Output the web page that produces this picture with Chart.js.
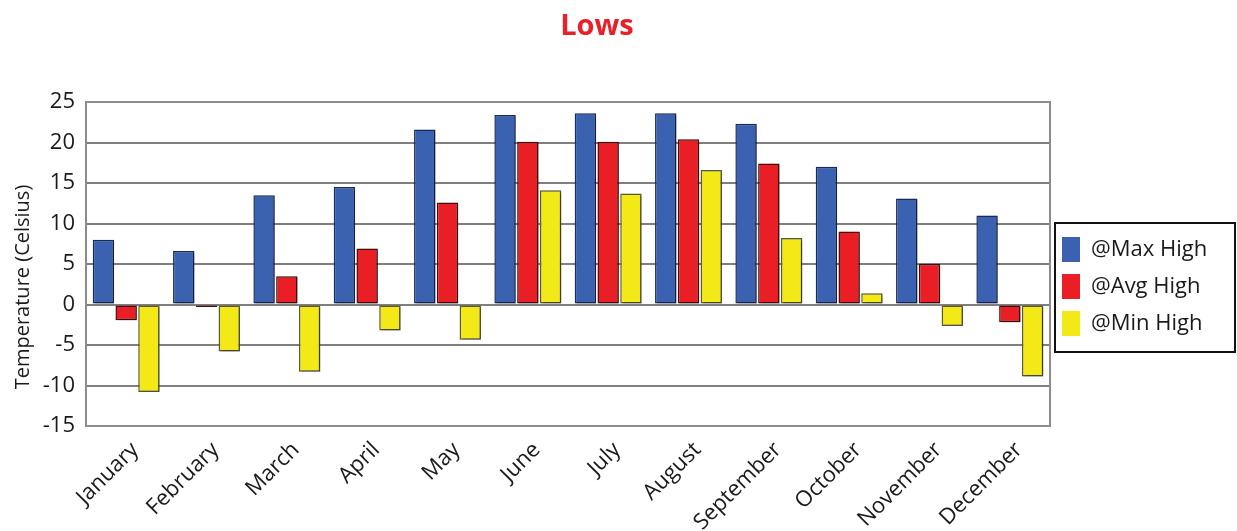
<!DOCTYPE html>
<html>
<head>
<meta charset="utf-8">
<script src="https://cdn.jsdelivr.net/npm/chart.js@4/dist/chart.umd.min.js"></script>
<style>
  html, body { margin: 0; padding: 0; background: #ffffff; }
  canvas { display: block; }
</style>
</head>
<body>
<canvas id="chart" width="1237" height="531"></canvas>
<script>
// Monthly temperatures (°C)
const months = ['January', 'February', 'March', 'April', 'May', 'June',
                'July', 'August', 'September', 'October', 'November', 'December'];
const maxHigh = [8.0, 6.6, 13.5, 14.5, 21.6, 23.4, 23.6, 23.6, 22.3, 17.0, 13.1, 11.0];
const avgHigh = [-1.95, -0.3, 3.5, 6.9, 12.6, 20.1, 20.1, 20.4, 17.4, 9.0, 5.0, -2.2];
const minHigh = [-10.8, -5.8, -8.3, -3.2, -4.35, 14.1, 13.7, 16.6, 8.2, 1.4, -2.65, -8.9];
const seriesNames = ['@Max High', '@Avg High', '@Min High'];
const yMin = -15, yMax = 25, yStep = 5;
const chartTitle = 'Lows';
const yAxisTitle = 'Temperature (Celsius)';

const FONT = '"Open Sans", "Noto Sans", sans-serif';
const legendFontSize = 22;
const legendBoxW = 18;
const legendPad = 12;

// Size the right padding so the legend starts just past the plot frame
const measure = document.createElement('canvas').getContext('2d');
measure.font = legendFontSize + 'px ' + FONT;
const textW = Math.max(...seriesNames.map(n => measure.measureText(n).width));
const legendW = legendPad + legendBoxW + legendFontSize / 2 + textW + 10;
const rightPad = Math.max(0, 1237 - 1050 - legendW);

// Plot frame, plus a soft drop shadow under the bars
const frameAndShadow = {
  id: 'frameAndShadow',
  beforeDatasetsDraw(chart) {
    const { ctx, chartArea: a } = chart;
    ctx.save();
    ctx.strokeStyle = '#8c8c8c';
    ctx.lineWidth = 2;
    ctx.strokeRect(a.left, a.top, a.right - a.left, a.bottom - a.top);
    ctx.shadowColor = 'rgba(0,0,0,0.35)';
    ctx.shadowOffsetX = 2;
    ctx.shadowOffsetY = 1;
    ctx.shadowBlur = 2;
  },
  afterDatasetsDraw(chart) {
    chart.ctx.restore();
  }
};

// Chart title, rotated axis title and the legend frame
const texts = {
  id: 'texts',
  afterDraw(chart) {
    const { ctx } = chart;
    ctx.save();
    ctx.fillStyle = '#e8202a';
    ctx.font = 'bold 29px ' + FONT;
    ctx.textAlign = 'center';
    ctx.textBaseline = 'middle';
    ctx.fillText(chartTitle, 597, 27);

    ctx.fillStyle = '#1a1a1a';
    ctx.font = '20px ' + FONT;
    ctx.translate(23, 287);
    ctx.rotate(-Math.PI / 2);
    ctx.fillText(yAxisTitle, 0, 0);
    ctx.restore();

    const lg = chart.legend;
    if (lg && lg.legendHitBoxes && lg.legendHitBoxes.length) {
      const hb = lg.legendHitBoxes;
      const first = hb[0], last = hb[hb.length - 1];
      ctx.save();
      ctx.strokeStyle = '#111111';
      ctx.lineWidth = 2;
      const left = lg.left + 5;
      const top = first.top - 14;
      const bottom = last.top + last.height + 16;
      ctx.strokeRect(left, top, chart.width - 2 - left, bottom - top);
      ctx.restore();
    }
  }
};

const barStyle = {
  borderWidth: 1.5,
  borderSkipped: false,
  barPercentage: 0.94,
  categoryPercentage: 0.85
};

new Chart(document.getElementById('chart'), {
  type: 'bar',
  data: {
    labels: months,
    datasets: [
      { label: seriesNames[0], data: maxHigh, backgroundColor: '#3a62b0', borderColor: '#1b2b5e', ...barStyle },
      { label: seriesNames[1], data: avgHigh, backgroundColor: '#ea1f26', borderColor: '#4a0d0d', ...barStyle },
      { label: seriesNames[2], data: minHigh, backgroundColor: '#f2e916', borderColor: '#5e5a30', ...barStyle }
    ]
  },
  options: {
    responsive: false,
    animation: false,
    devicePixelRatio: 1,
    layout: { padding: { top: 102, bottom: 0, left: 0, right: rightPad } },
    plugins: {
      title: { display: false },
      tooltip: { enabled: false },
      legend: {
        position: 'right',
        fullSize: false,
        // empty title row only reserves space above the items
        title: { display: true, text: '', font: { size: 10 }, padding: { top: 0, bottom: 33 } },
        labels: {
          font: { family: FONT, size: legendFontSize },
          color: '#1a1a1a',
          boxWidth: legendBoxW,
          boxHeight: 25,
          padding: legendPad,
          generateLabels(chart) {
            return Chart.defaults.plugins.legend.labels.generateLabels(chart)
              .map(l => Object.assign(l, { lineWidth: 0 }));
          }
        }
      }
    },
    scales: {
      x: {
        grid: { display: false },
        border: { display: false },
        ticks: {
          color: '#1a1a1a',
          font: { family: FONT, size: 22 },
          minRotation: 45,
          maxRotation: 45,
          padding: 3,
          labelOffset: 9,
          autoSkip: false
        },
        afterFit(scale) { scale.height = 105; }
      },
      y: {
        min: yMin,
        max: yMax,
        grid: { color: '#7f7f7f', lineWidth: 2, drawTicks: false },
        border: { display: false },
        ticks: {
          stepSize: yStep,
          color: '#1a1a1a',
          font: { family: FONT, size: 22 },
          padding: 11
        },
        afterFit(scale) { scale.width = 86; }
      }
    }
  },
  plugins: [frameAndShadow, texts]
});
</script>
</body>
</html>
